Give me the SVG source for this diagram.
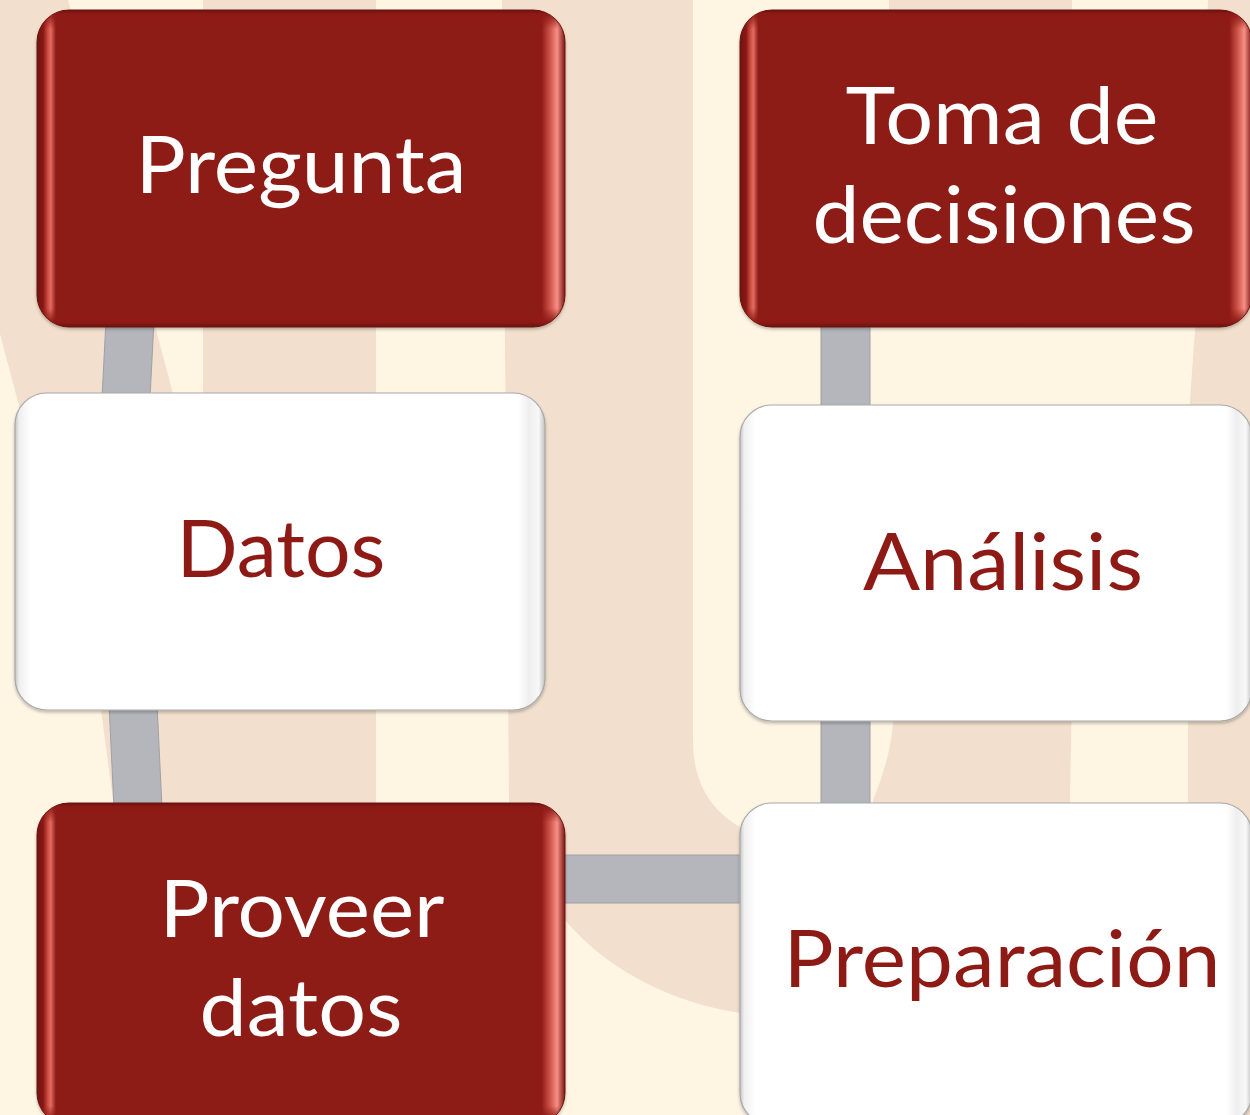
<svg xmlns="http://www.w3.org/2000/svg" width="1250" height="1115" viewBox="0 0 1250 1115">
  <defs>
    <linearGradient id="redH" x1="0" y1="0" x2="1" y2="0">
      <stop offset="0" stop-color="#6E1410"/>
      <stop offset="0.012" stop-color="#8A1814"/>
      <stop offset="0.02" stop-color="#C94A40"/>
      <stop offset="0.026" stop-color="#E46C60"/>
      <stop offset="0.036" stop-color="#8E1A16"/>
      <stop offset="0.955" stop-color="#8E1A16"/>
      <stop offset="0.972" stop-color="#D0544A"/>
      <stop offset="0.985" stop-color="#F79085"/>
      <stop offset="1" stop-color="#7A1612"/>
    </linearGradient>
    <linearGradient id="redV" x1="0" y1="0" x2="0" y2="1">
      <stop offset="0" stop-color="#6A120E" stop-opacity="1"/>
      <stop offset="0.012" stop-color="#8E1A16" stop-opacity="1"/>
      <stop offset="0.06" stop-color="#8E1A16" stop-opacity="0"/>
      <stop offset="0.94" stop-color="#8E1A16" stop-opacity="0"/>
      <stop offset="0.985" stop-color="#8E1A16" stop-opacity="1"/>
      <stop offset="1" stop-color="#6A120E" stop-opacity="1"/>
    </linearGradient>
    <linearGradient id="whiteH" x1="0" y1="0" x2="1" y2="0">
      <stop offset="0" stop-color="#C4C4C4"/>
      <stop offset="0.008" stop-color="#EFEFEF"/>
      <stop offset="0.03" stop-color="#FFFFFF"/>
      <stop offset="0.95" stop-color="#FFFFFF"/>
      <stop offset="0.97" stop-color="#EEEEEE"/>
      <stop offset="0.988" stop-color="#F8F8F8"/>
      <stop offset="1" stop-color="#C0C0C0"/>
    </linearGradient>
    <filter id="shadow" x="-5%" y="-5%" width="110%" height="115%">
      <feDropShadow dx="0" dy="2" stdDeviation="1.5" flood-color="#000" flood-opacity="0.25"/>
    </filter>
  </defs>
  <style>
    .cream { fill: #FEF5E3; }
    .beige { fill: #F2DFCD; }
    .conn { fill: #B5B6BB; stroke: #9FA0A5; stroke-width: 1; }
    .red { fill: url(#redH); stroke: #6A120E; stroke-width: 1; filter: url(#shadow); }
    .redov { fill: url(#redV); }
    .white { fill: url(#whiteH); stroke: #A9A9A9; stroke-width: 1.2; filter: url(#shadow); }
    .t { font-family: Lato, "Open Sans", "DejaVu Sans", sans-serif; font-size: 80px; text-anchor: middle; }
    .tw { fill: #FFFFFF; }
    .tr { fill: #8E1A16; }
  </style>

  <g id="background">
    <rect class="cream" x="0" y="0" width="1250" height="1115"/>
    <polygon class="beige" points="0,0 68,0 203,506 203,0 376,0 376,1115 120,1115 113,800 101,710 17,398 0,334"/>
    <path class="beige" d="M502,0 L693,0 L693,740 C693,785 712,812 745,830 L760,830 L760,1015 C690,1010 600,975 550,900 C520,860 509,830 509,800 Z"/>
    <rect class="beige" x="889" y="0" width="183" height="200"/>
    <path class="beige" d="M893,430 L1077,430 L1068,900 L860,900 L873,800 Q890,760 893,723 Z"/>
    <polygon class="beige" points="1208,0 1250,0 1250,1115 1188,1115 1188,720 1190,400 1195,330"/>
  </g>

  <g id="connectors">
    <polygon class="conn" points="106,320 154,320 150,398 102,398"/>
    <polygon class="conn" points="109,704 157,704 162,808 114,808"/>
    <rect class="conn" x="821" y="320" width="49" height="90"/>
    <rect class="conn" x="821" y="715" width="49" height="92"/>
    <rect class="conn" x="560" y="855" width="185" height="48"/>
  </g>

  <g id="node-pregunta">
    <rect class="red" x="37" y="10" width="528" height="317" rx="32"/>
    <rect class="redov" x="37" y="10" width="528" height="317" rx="32"/>
    <text class="t tw" x="301" y="193" textLength="331" lengthAdjust="spacingAndGlyphs">Pregunta</text>
  </g>

  <g id="node-toma">
    <rect class="red" x="740" y="10" width="512" height="317" rx="32"/>
    <rect class="redov" x="740" y="10" width="512" height="317" rx="32"/>
    <text class="t tw" x="1002" y="144" textLength="313" lengthAdjust="spacingAndGlyphs">Toma de</text>
    <text class="t tw" x="1004" y="243" textLength="383" lengthAdjust="spacingAndGlyphs">decisiones</text>
  </g>

  <g id="node-datos">
    <rect class="white" x="15" y="393" width="530" height="317" rx="32"/>
    <text class="t tr" x="281" y="577" textLength="209" lengthAdjust="spacingAndGlyphs">Datos</text>
  </g>

  <g id="node-analisis">
    <rect class="white" x="740" y="405" width="512" height="316" rx="32"/>
    <text class="t tr" x="1003" y="590" textLength="280" lengthAdjust="spacingAndGlyphs">Análisis</text>
  </g>

  <g id="node-proveer">
    <rect class="red" x="37" y="803" width="528" height="322" rx="32"/>
    <rect class="redov" x="37" y="803" width="528" height="322" rx="32"/>
    <text class="t tw" x="302" y="937" textLength="285" lengthAdjust="spacingAndGlyphs">Proveer</text>
    <text class="t tw" x="301" y="1036" textLength="203" lengthAdjust="spacingAndGlyphs">datos</text>
  </g>

  <g id="node-preparacion">
    <rect class="white" x="740" y="803" width="512" height="322" rx="32"/>
    <text class="t tr" x="1002" y="987" textLength="437" lengthAdjust="spacingAndGlyphs">Preparación</text>
  </g>
</svg>
